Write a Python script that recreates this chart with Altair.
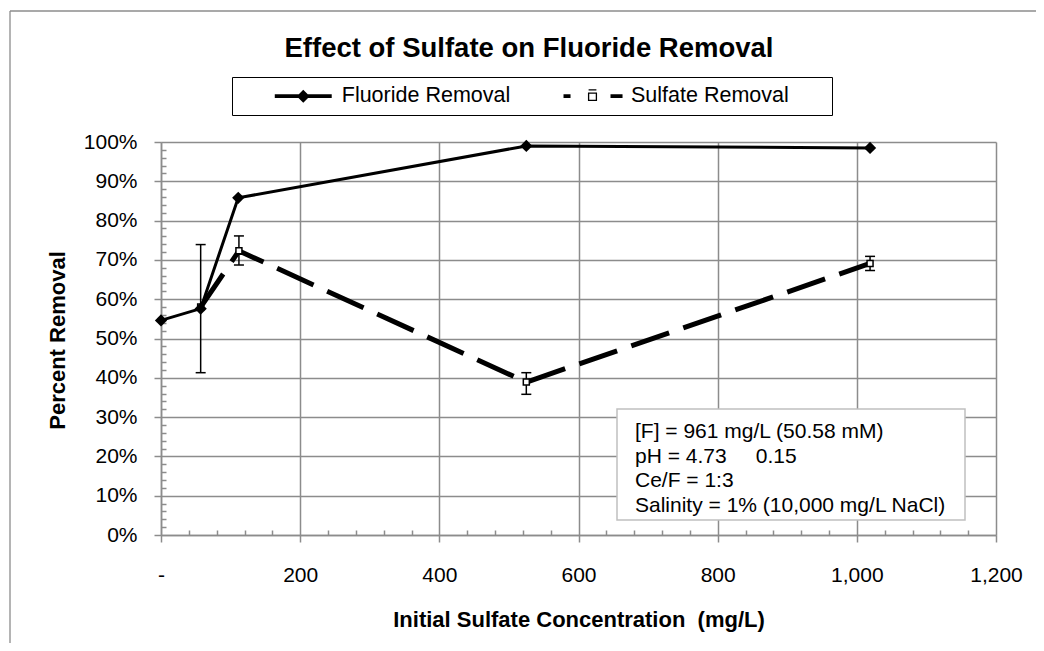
import altair as alt
import pandas as pd

FONT = "Liberation Sans"
GRID = "#8c8c8c"
NB = "\u00a0"

# ---------------- data ----------------
fluoride_conc = [0, 57, 111, 525, 1019]
fluoride_pct = [0.546, 0.576, 0.858, 0.990, 0.985]

sulfate_conc = [57, 112, 525, 1019]
sulfate_pct = [0.580, 0.723, 0.389, 0.691]
sulfate_err_low = [0.413, 0.687, 0.358, 0.673]
sulfate_err_high = [0.739, 0.761, 0.413, 0.709]

series_names = ["Fluoride Removal", "Sulfate Removal"]

x_ticks = [0, 200, 400, 600, 800, 1000, 1200]
x_minor = [v for v in range(40, 1200, 40) if v % 200]
y_ticks = [round(i * 0.1, 1) for i in range(11)]
y_minor = [round(i * 0.02, 2) for i in range(1, 50) if i % 5]

title_text = "Effect of Sulfate on Fluoride Removal"
x_title = "Initial Sulfate Concentration" + NB + " (mg/L)"
y_title = "Percent Removal"
note_lines = [
    "[F] = 961 mg/L (50.58 mM)",
    "pH = 4.73" + NB * 5 + "0.15",
    "Ce/F = 1:3",
    "Salinity = 1% (10,000 mg/L NaCl)",
]

# ---------------- geometry ----------------
W, H = 835, 393

fdf = pd.DataFrame({"conc": fluoride_conc, "pct": fluoride_pct})
sdf = pd.DataFrame({"conc": sulfate_conc, "pct": sulfate_pct,
                    "lo": sulfate_err_low, "hi": sulfate_err_high})
one = pd.DataFrame({"k": [0]})
legend_df = pd.DataFrame({"series": series_names})

xs = alt.Scale(domain=[0, 1200], nice=False, zero=False)
ys = alt.Scale(domain=[0, 1], nice=False, zero=False)

x_axis = alt.Axis(
    values=x_ticks,
    labelExpr="datum.value == 0 ? '-' : format(datum.value, ',')",
    title=x_title, grid=True, gridColor=GRID, gridWidth=1.5,
    domainColor=GRID, domainWidth=1.5, tickColor=GRID, tickWidth=1.5, tickSize=7,
    labelFont=FONT, labelFontSize=21, labelColor="black", labelPadding=22,
    labelFlush=False, labelOverlap=False,
    titleFont=FONT, titleFontSize=22, titleFontWeight="bold", titleColor="black",
    titleY=91, titleBaseline="alphabetic",
)
y_axis = alt.Axis(
    values=y_ticks, format=".0%",
    title=y_title, grid=True, gridColor=GRID, gridWidth=1.5,
    domainColor=GRID, domainWidth=1.5, tickColor=GRID, tickWidth=1.5, tickSize=7,
    labelFont=FONT, labelFontSize=21, labelColor="black", labelPadding=17,
    labelOverlap=False,
    titleFont=FONT, titleFontSize=22, titleFontWeight="bold", titleColor="black",
    titleX=-104, titleY=198, titleAngle=270, titleAlign="center", titleBaseline="middle",
)

# error bars
err_rule = alt.Chart(sdf).mark_rule(color="black", strokeWidth=1.5).encode(
    x=alt.X("conc:Q", scale=xs, axis=None),
    y=alt.Y("lo:Q", scale=ys, axis=None),
    y2="hi:Q",
)
cap_lo = alt.Chart(sdf).mark_tick(orient="horizontal", size=10, thickness=1.5,
                                  color="black", opacity=1).encode(
    x=alt.X("conc:Q", scale=xs, axis=None),
    y=alt.Y("lo:Q", scale=ys, axis=None),
)
cap_hi = alt.Chart(sdf).mark_tick(orient="horizontal", size=10, thickness=1.5,
                                  color="black", opacity=1).encode(
    x=alt.X("conc:Q", scale=xs, axis=None),
    y=alt.Y("hi:Q", scale=ys, axis=None),
)

sulf_line = alt.Chart(sdf).mark_line(color="black", strokeWidth=5, strokeDash=[40, 15]).encode(
    x=alt.X("conc:Q", scale=xs, axis=None),
    y=alt.Y("pct:Q", scale=ys, axis=None),
)
sulf_pts = alt.Chart(sdf).mark_point(shape="square", filled=True, fill="white", stroke="black",
                                     strokeWidth=1.5, size=36, opacity=1).encode(
    x=alt.X("conc:Q", scale=xs, axis=None),
    y=alt.Y("pct:Q", scale=ys, axis=None),
)

fl_line = alt.Chart(fdf).mark_line(color="black", strokeWidth=3).encode(
    x=alt.X("conc:Q", scale=xs, axis=x_axis),
    y=alt.Y("pct:Q", scale=ys, axis=y_axis),
)
fl_pts = alt.Chart(fdf).mark_point(shape="diamond", filled=True, color="black",
                                   size=150, opacity=1).encode(
    x=alt.X("conc:Q", scale=xs, axis=None),
    y=alt.Y("pct:Q", scale=ys, axis=None),
)

# minor ticks (inward) via extra axes
minor = alt.Chart(fdf).mark_point(opacity=0).encode(
    x=alt.X("conc:Q", scale=xs, axis=alt.Axis(
        orient="top", offset=-H, values=x_minor, labels=False, domain=False, grid=False,
        tickSize=5, tickColor=GRID, tickWidth=1.5, title=None)),
    y=alt.Y("pct:Q", scale=ys, axis=alt.Axis(
        orient="right", offset=-W, values=y_minor, labels=False, domain=False, grid=False,
        tickSize=5, tickColor=GRID, tickWidth=1.5, title=None)),
)

# legend (symbols are combined line + marker glyphs; a tiny sliver sets the box's right edge)
path_f = ("M-4.38,-0.27H4.38V0.27H-4.38Z "
          "M-1,0L0,-1L1,0L0,1Z")
path_s = ("M-4.46,-0.3H-3.38V0.3H-4.46Z "
          "M2.77,-0.3H4.62V0.3H2.77Z "
          "M-0.6,-1.05H0.6V-0.85H-0.6Z "
          "M-0.7,-0.55H0.7V0.75H-0.7Z M-0.5,-0.35V0.55H0.5V-0.35Z "
          "M35.6,-0.01H35.61V0.01H35.6Z")
legend_layer = alt.Chart(legend_df).transform_filter("false").mark_point(
    filled=True, color="black", size=169, opacity=1
).encode(
    shape=alt.Shape("series:N",
                    scale=alt.Scale(domain=series_names, range=[path_f, path_s]),
                    legend=alt.Legend(
                        orient="none", legendX=71, legendY=-65, direction="horizontal",
                        title=None, strokeColor="black", fillColor="white", padding=8,
                        labelFont=FONT, labelFontSize=21.5, labelColor="black",
                        labelLimit=600, symbolOffset=52.5, labelOffset=27.75,
                        columnPadding=18.25, symbolStrokeWidth=0,
                        symbolFillColor="black", symbolSize=169,
                    ))
)

# annotation box
note_box = alt.Chart(one).mark_rect(fill="white", stroke="#c0c0c0", strokeWidth=1.5).encode(
    x=alt.value(456), x2=alt.value(804), y=alt.value(267), y2=alt.value(378)
)
note_text = alt.Chart(one).mark_text(
    text=note_lines, font=FONT, fontSize=21, color="black", align="left",
    baseline="top", lineHeight=24.5
).encode(x=alt.value(474), y=alt.value(279))

# chart title
title_mark = alt.Chart(one).mark_text(
    text=title_text, font=FONT, fontSize=27.5, fontWeight="bold", color="black",
    align="center", baseline="middle"
).encode(x=alt.value(368), y=alt.value(-93))

# outer chart-area border (left and top edges visible)
border_top = alt.Chart(one).mark_rule(color=GRID, strokeWidth=1.3).encode(
    x=alt.value(-151), x2=alt.value(880), y=alt.value(-131)
)
border_left = alt.Chart(one).mark_rule(color=GRID, strokeWidth=1.3).encode(
    x=alt.value(-151), y=alt.value(-131), y2=alt.value(510)
)

chart = alt.layer(
    border_top, border_left, minor, note_box, note_text,
    err_rule, cap_lo, cap_hi, sulf_line, sulf_pts, fl_line, fl_pts,
    legend_layer, title_mark,
).resolve_axis(x="independent", y="independent").properties(
    width=W, height=H,
    padding={"left": 153, "top": 134, "right": 40, "bottom": 108},
    autosize=alt.AutoSizeParams(type="none"),
).configure(font=FONT).configure_view(stroke=None)

chart.save("out.html", embed_options={"renderer": "svg", "actions": False})
